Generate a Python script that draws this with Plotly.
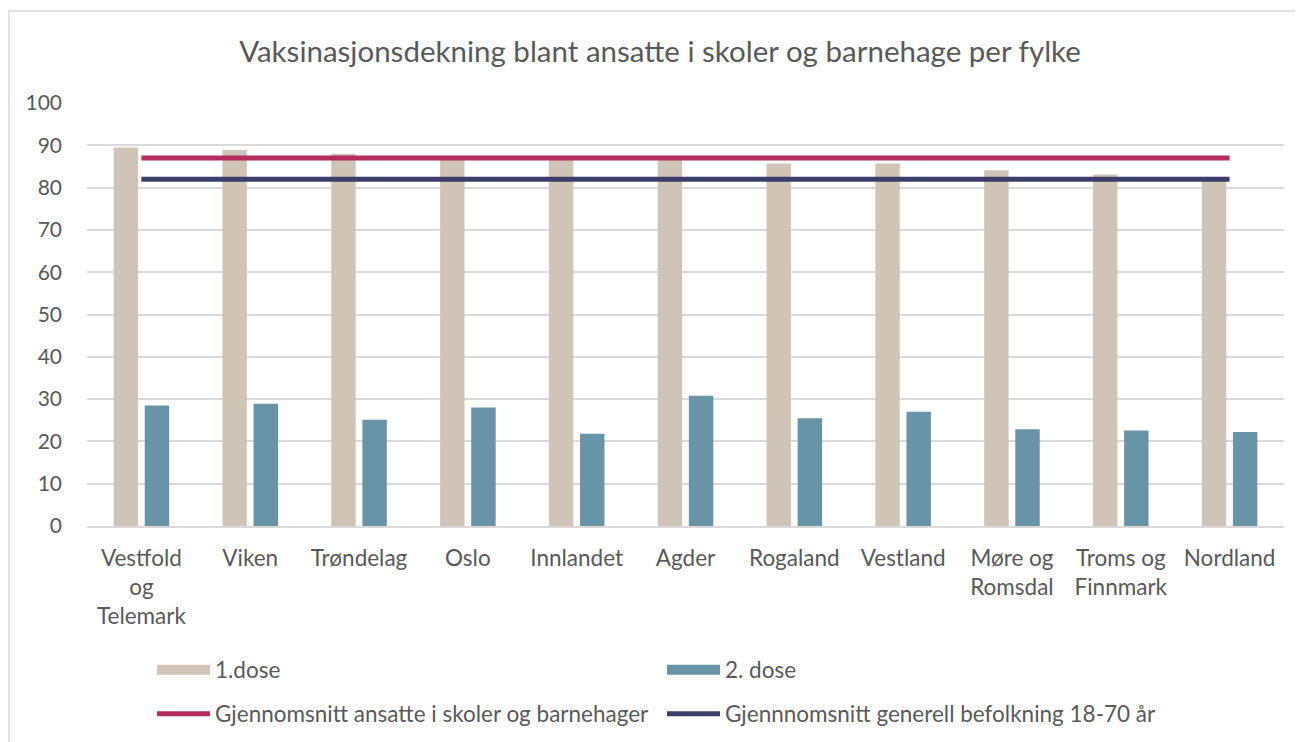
import plotly.graph_objects as go

categories = ["Vestfold<br>og<br>Telemark", "Viken", "Trøndelag", "Oslo", "Innlandet", "Agder",
              "Rogaland", "Vestland", "Møre og<br>Romsdal", "Troms og<br>Finnmark", "Nordland"]
dose1 = [89.5, 88.9, 88.0, 87.0, 86.9, 86.9, 85.7, 85.7, 84.1, 83.1, 82.0]
dose2 = [28.5, 28.9, 25.1, 28.0, 21.8, 30.8, 25.5, 27.0, 22.9, 22.6, 22.2]
avg_staff = [87.0] * len(categories)
avg_population = [82.0] * len(categories)
y_ticks = [0, 10, 20, 30, 40, 50, 60, 70, 80, 90, 100]

FONT = "Lato, Carlito, Calibri, sans-serif"
GREY = "#595959"
C_DOSE1 = "#D0C4B6"
C_DOSE2 = "#6795A7"
C_STAFF = "#B62D5D"
C_POP = "#3B3E69"

fig = go.Figure()
fig.add_trace(go.Bar(x=categories, y=dose1, name="1.dose", marker=dict(color=C_DOSE1, line=dict(width=0)),
                     showlegend=False))
fig.add_trace(go.Bar(x=categories, y=dose2, name="2. dose", marker=dict(color=C_DOSE2, line=dict(width=0)),
                     showlegend=False))
fig.add_trace(go.Scatter(x=categories, y=avg_staff, mode="lines", name="Gjennomsnitt ansatte i skoler og barnehager",
                         line=dict(color=C_STAFF, width=5), legend="legend2"))
fig.add_trace(go.Scatter(x=categories, y=avg_population, mode="lines", name="Gjennnomsnitt generell befolkning 18-70 år",
                         line=dict(color=C_POP, width=5), legend="legend2"))
# legend keys for the bar series (wide rectangular swatches)
fig.add_trace(go.Scatter(x=[None], y=[None], mode="lines", name="1.dose",
                         line=dict(color=C_DOSE1, width=14), legend="legend", hoverinfo="skip"))
fig.add_trace(go.Scatter(x=[None], y=[None], mode="lines", name="2. dose",
                         line=dict(color=C_DOSE2, width=14), legend="legend", hoverinfo="skip"))

legend_common = dict(orientation="h", xanchor="left", yanchor="middle", x=(152 - 87) / 1197,
                     font=dict(family=FONT, size=22.5, color=GREY), itemwidth=53,
                     entrywidth=442, bgcolor="rgba(0,0,0,0)", traceorder="normal")

W, H = 1303, 742
fig.update_layout(
    width=W, height=H,
    margin=dict(l=79, r=27, t=95, b=224),
    paper_bgcolor="white", plot_bgcolor="white",
    barmode="group", bargap=0.428, bargroupgap=0.215,
    title=dict(text="Vaksinasjonsdekning blant ansatte i skoler og barnehage per fylke",
               x=652 / W, xanchor="center", xref="container", y=1 - 44 / H, yanchor="middle",
               font=dict(family=FONT, size=29.5, color=GREY)),
    font=dict(family=FONT, color=GREY),
    legend=dict(y=(526 - 670) / 423, **legend_common),
    legend2=dict(y=(526 - 714) / 423, **legend_common),
    xaxis=dict(showgrid=False, showline=True, linecolor="#D9D9D9", linewidth=1.5, ticks="",
               tickfont=dict(family=FONT, size=22.5, color=GREY), ticklabelstandoff=11, fixedrange=True),
    yaxis=dict(range=[0, 100], tickvals=y_ticks, showgrid=True, gridcolor="#D9D9D9", gridwidth=1.5,
               zeroline=False, showline=False, ticks="",
               tickfont=dict(family=FONT, size=21, color=GREY), ticklabelstandoff=24, fixedrange=True),
    shapes=[dict(type="rect", xref="paper", yref="paper", x0=(9 - 87) / 1197, x1=1.05,
                 y0=-0.6, y1=(526 - 11) / 423, line=dict(color="#D9D9D9", width=1.5), layer="below")],
)

fig.write_html("out.html")
